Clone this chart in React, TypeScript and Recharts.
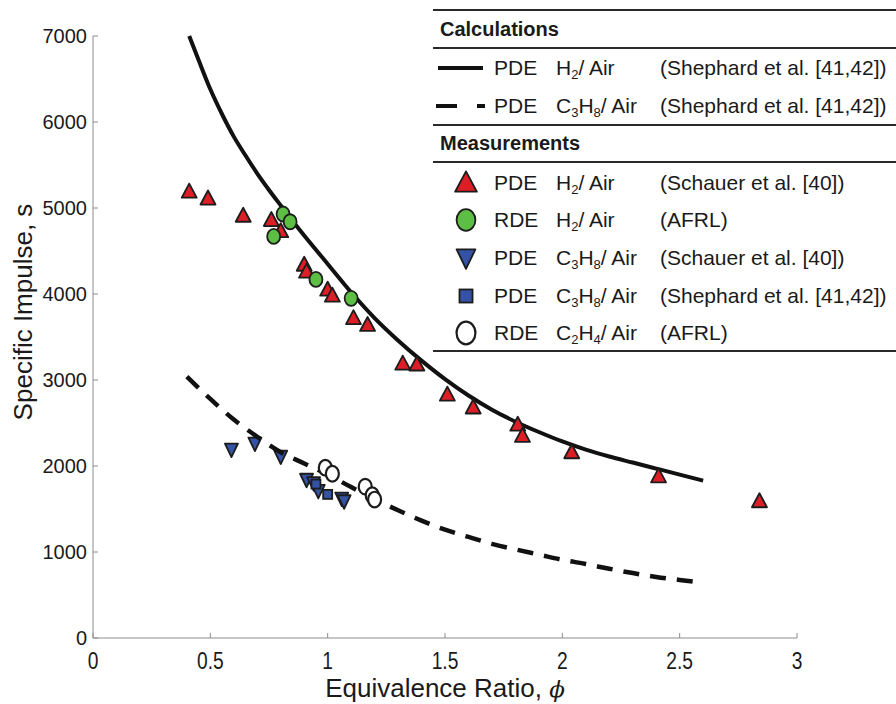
import React from "react";
import { ScatterChart, Scatter, XAxis, YAxis } from "recharts";

const FONT = '"Liberation Sans", Arial, Helvetica, sans-serif';
const INK = "#1a1a1a";

// calculations (Shephard et al.)
const h2CalcPhi = [0.41, 0.45, 0.5, 0.55, 0.6, 0.65, 0.7, 0.75, 0.8, 0.9, 1.0, 1.1, 1.2, 1.3, 1.4, 1.5, 1.6, 1.7, 1.8, 1.9, 2.0, 2.1, 2.2, 2.3, 2.4, 2.5, 2.6];
const h2CalcIsp = [7000, 6720, 6380, 6090, 5830, 5610, 5400, 5210, 5030, 4680, 4350, 4020, 3720, 3460, 3225, 3010, 2820, 2655, 2515, 2395, 2285, 2190, 2110, 2040, 1970, 1900, 1830];
const c3h8CalcPhi = [0.4, 0.5, 0.6, 0.7, 0.8, 0.9, 1.0, 1.1, 1.2, 1.3, 1.4, 1.5, 1.6, 1.7, 1.8, 1.9, 2.0, 2.1, 2.2, 2.3, 2.4, 2.5, 2.6];
const c3h8CalcIsp = [3040, 2780, 2540, 2340, 2160, 2030, 1900, 1755, 1615, 1485, 1365, 1260, 1175, 1095, 1030, 970, 910, 860, 805, 755, 710, 675, 645];

// measurements
const pdeH2Phi = [0.41, 0.49, 0.64, 0.76, 0.8, 0.9, 0.91, 1.0, 1.02, 1.11, 1.17, 1.32, 1.38, 1.51, 1.62, 1.81, 1.83, 2.04, 2.41, 2.84];
const pdeH2Isp = [5190, 5110, 4910, 4860, 4730, 4340, 4260, 4050, 3980, 3720, 3640, 3190, 3180, 2830, 2680, 2480, 2350, 2160, 1880, 1590];
const rdeH2Phi = [0.77, 0.81, 0.84, 0.95, 1.1];
const rdeH2Isp = [4670, 4930, 4840, 4170, 3950];
const pdeC3h8Phi = [0.59, 0.69, 0.8, 0.91, 0.94, 0.96, 1.06, 1.07];
const pdeC3h8Isp = [2190, 2260, 2110, 1840, 1800, 1710, 1620, 1590];
const shepC3h8Phi = [0.95, 1.0];
const shepC3h8Isp = [1790, 1670];
const rdeC2h4Phi = [0.99, 1.02, 1.16, 1.19, 1.2];
const rdeC2h4Isp = [1980, 1910, 1760, 1660, 1610];

const xTicks = [0, 0.5, 1, 1.5, 2, 2.5, 3];
const yTicks = [0, 1000, 2000, 3000, 4000, 5000, 6000, 7000];

// legend text
const calcEngines = ["PDE", "PDE"];
const calcFuels = ["H_2/ Air", "C_3H_8/ Air"];
const calcRefs = ["(Shephard et al. [41,42])", "(Shephard et al. [41,42])"];
const calcStyles = ["solid", "dashed"];
const measEngines = ["PDE", "RDE", "PDE", "PDE", "RDE"];
const measFuels = ["H_2/ Air", "H_2/ Air", "C_3H_8/ Air", "C_3H_8/ Air", "C_2H_4/ Air"];
const measRefs = ["(Schauer et al. [40])", "(AFRL)", "(Schauer et al. [40])", "(Shephard et al. [41,42])", "(AFRL)"];
const measKinds = ["tri", "circle", "down", "square", "open"];

const zip = (xs: number[], ys: number[]) => xs.map((x, i) => ({ x, y: ys[i] }));

function Marker({ kind, cx, cy, s = 1 }: any) {
  const st = { stroke: "#1c1c1c", strokeWidth: 1.8 };
  if (kind === "tri")
    return <polygon points={`${cx},${cy - 8 * s} ${cx - 7.5 * s},${cy + 6 * s} ${cx + 7.5 * s},${cy + 6 * s}`} fill="#dc1e26" {...st} strokeLinejoin="round" />;
  if (kind === "down")
    return <polygon points={`${cx},${cy + 7.5 * s} ${cx - 6.5 * s},${cy - 6 * s} ${cx + 6.5 * s},${cy - 6 * s}`} fill="#3453a6" {...st} strokeLinejoin="round" />;
  if (kind === "square")
    return <rect x={cx - 4.5 * s} y={cy - 4.5 * s} width={9 * s} height={9 * s} fill="#3453a6" {...st} />;
  if (kind === "circle")
    return <ellipse cx={cx} cy={cy} rx={6.5 * s} ry={7.5 * s} fill="#5cbf44" {...st} />;
  return <ellipse cx={cx} cy={cy} rx={6.5 * s} ry={7.8 * s} fill="#fff" stroke="#1c1c1c" strokeWidth={2.2} />;
}

// condensed-looking x tick labels
function XTick({ x, y, payload }: any) {
  return (
    <g transform={`translate(${x},${y})`}>
      <text transform="scale(0.8,1)" textAnchor="middle" dy="0.75em" fontSize={24} fontFamily={FONT} fill={INK}>
        {payload.value}
      </text>
    </g>
  );
}

function Chem({ text }: { text: string }) {
  const parts = text.split(/_(\d)/);
  return (
    <span>
      {parts.map((p, i) =>
        i % 2 === 1 ? (
          <sub key={i} style={{ fontSize: "0.62em", verticalAlign: "-0.28em", lineHeight: 0 }}>{p}</sub>
        ) : (
          <span key={i}>{p}</span>
        )
      )}
    </span>
  );
}

function LegendRow({ top, swatch, engine, fuel, cite }: any) {
  return (
    <div style={{ position: "absolute", left: 0, top: top - 13, height: 26, width: 464, fontSize: 21, lineHeight: "26px", color: INK }}>
      <div style={{ position: "absolute", left: 0, top: 0, width: 58, height: 26 }}>{swatch}</div>
      <span style={{ position: "absolute", left: 61 }}>{engine}</span>
      <span style={{ position: "absolute", left: 123 }}><Chem text={fuel} /></span>
      <span style={{ position: "absolute", left: 227, whiteSpace: "nowrap" }}>{cite}</span>
    </div>
  );
}

function Rule({ y }: { y: number }) {
  return <div style={{ position: "absolute", left: 0, top: y - 1, width: 464, height: 2, background: "#2a2a2a" }} />;
}

function Legend() {
  const calcTops = [68, 106];
  const measTops = [183, 220, 258, 296, 333];
  return (
    <div style={{ position: "absolute", left: 433, top: 0, width: 463, height: 360, fontFamily: FONT }}>
      <Rule y={10} />
      <div style={{ position: "absolute", left: 7, top: 17, fontSize: 20, fontWeight: "bold", lineHeight: "24px", color: INK }}>Calculations</div>
      <Rule y={48} />
      {calcEngines.map((e, i) => (
        <LegendRow
          key={"c" + i}
          top={calcTops[i]}
          engine={e}
          fuel={calcFuels[i]}
          cite={calcRefs[i]}
          swatch={
            <svg width={58} height={26}>
              {calcStyles[i] === "solid" ? (
                <line x1={5} x2={50} y1={13} y2={13} stroke="#111" strokeWidth={4} />
              ) : (
                <>
                  <line x1={3} x2={24} y1={13} y2={13} stroke="#111" strokeWidth={4} />
                  <line x1={44} x2={52} y1={13} y2={13} stroke="#111" strokeWidth={4} />
                </>
              )}
            </svg>
          }
        />
      ))}
      <Rule y={125} />
      <div style={{ position: "absolute", left: 7, top: 131, fontSize: 20, fontWeight: "bold", lineHeight: "24px", color: INK }}>Measurements</div>
      <Rule y={162} />
      {measEngines.map((e, i) => (
        <LegendRow
          key={"m" + i}
          top={measTops[i]}
          engine={e}
          fuel={measFuels[i]}
          cite={measRefs[i]}
          swatch={
            <svg width={58} height={26}>
              <Marker kind={measKinds[i]} cx={33} cy={13} s={1.45} />
            </svg>
          }
        />
      ))}
      <Rule y={351} />
    </div>
  );
}

const none = () => <g />;

export default function App() {
  return (
    <div style={{ position: "absolute", left: 0, top: 0, width: 896, height: 704, background: "#fff", fontFamily: FONT }}>
      <ScatterChart width={896} height={704} margin={{ top: 36, right: 99, bottom: 0, left: 0 }}>
        <XAxis
          type="number"
          dataKey="x"
          domain={[0, 3]}
          ticks={xTicks}
          height={66}
          axisLine={{ stroke: "#8c8c8c" }}
          tickLine={{ stroke: "#8c8c8c" }}
          tickSize={-5}
          tickMargin={18}
          tick={<XTick />}
          interval={0}
        />
        <YAxis
          type="number"
          dataKey="y"
          domain={[0, 7000]}
          ticks={yTicks}
          width={93}
          axisLine={{ stroke: "#8c8c8c" }}
          tickLine={{ stroke: "#8c8c8c" }}
          tickSize={-5}
          tickMargin={11}
          tick={{ fill: INK, fontSize: 20, fontFamily: FONT }}
          interval={0}
        />
        <Scatter
          data={zip(h2CalcPhi, h2CalcIsp)}
          shape={none}
          line={{ stroke: "#111", strokeWidth: 4 }}
          lineJointType="monotoneX"
          isAnimationActive={false}
        />
        <Scatter data={zip(pdeH2Phi, pdeH2Isp)} shape={(p: any) => <Marker kind="tri" cx={p.cx} cy={p.cy} />} isAnimationActive={false} />
        <Scatter data={zip(rdeH2Phi, rdeH2Isp)} shape={(p: any) => <Marker kind="circle" cx={p.cx} cy={p.cy} />} isAnimationActive={false} />
        <Scatter data={zip(pdeC3h8Phi, pdeC3h8Isp)} shape={(p: any) => <Marker kind="down" cx={p.cx} cy={p.cy} />} isAnimationActive={false} />
        <Scatter data={zip(shepC3h8Phi, shepC3h8Isp)} shape={(p: any) => <Marker kind="square" cx={p.cx} cy={p.cy} />} isAnimationActive={false} />
        <Scatter
          data={zip(c3h8CalcPhi, c3h8CalcIsp)}
          shape={none}
          line={{ stroke: "#111", strokeWidth: 4.5, strokeDasharray: "16 11" }}
          lineJointType="monotoneX"
          isAnimationActive={false}
        />
        <Scatter data={zip(rdeC2h4Phi, rdeC2h4Isp)} shape={(p: any) => <Marker kind="open" cx={p.cx} cy={p.cy} />} isAnimationActive={false} />
      </ScatterChart>

      <div
        style={{
          position: "absolute",
          left: 23,
          top: 312,
          transform: "translate(-50%, -50%) rotate(-90deg)",
          fontSize: 26,
          lineHeight: "26px",
          whiteSpace: "nowrap",
          color: INK,
        }}
      >
        Specific Impulse, s
      </div>
      <div
        style={{
          position: "absolute",
          left: 445,
          top: 675,
          transform: "translateX(-50%)",
          fontSize: 26,
          lineHeight: "26px",
          whiteSpace: "nowrap",
          color: INK,
        }}
      >
        Equivalence Ratio, <i style={{ fontFamily: '"DejaVu Serif", serif', fontSize: 23 }}>ϕ</i>
      </div>
      <Legend />
    </div>
  );
}
